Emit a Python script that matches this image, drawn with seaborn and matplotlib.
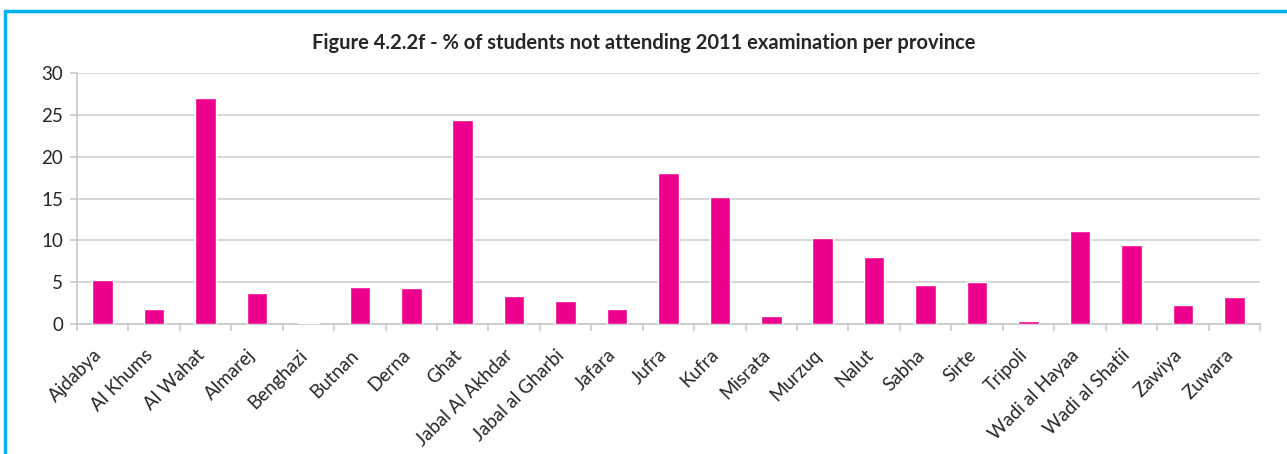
import numpy as np
import pandas as pd
import matplotlib
matplotlib.use('Agg')
import matplotlib.pyplot as plt
from matplotlib.lines import Line2D
from matplotlib.transforms import ScaledTranslation
import seaborn as sns

# % of students not attending 2011 examination, per province
provinces = ['Ajdabya', 'Al Khums', 'Al Wahat', 'Almarej', 'Benghazi', 'Butnan', 'Derna',
             'Ghat', 'Jabal Al Akhdar', 'Jabal al Gharbi', 'Jafara', 'Jufra', 'Kufra',
             'Misrata', 'Murzuq', 'Nalut', 'Sabha', 'Sirte', 'Tripoli', 'Wadi al Hayaa',
             'Wadi al Shatii', 'Zawiya', 'Zuwara']
pct_absent = [5.3, 1.8, 27.0, 3.7, 0.1, 4.4, 4.3,
              24.4, 3.4, 2.7, 1.8, 18.0, 15.2,
              1.0, 10.3, 8.0, 4.7, 5.0, 0.4, 11.1,
              9.4, 2.3, 3.2]
y_ticks = [0, 5, 10, 15, 20, 25, 30]

df = pd.DataFrame({'Province': provinces, 'Pct': pct_absent})

sns.set_style('white')
plt.rcParams['font.family'] = ['Lato', 'DejaVu Sans']

fig = plt.figure(figsize=(12.87, 4.54), dpi=100)
ax = fig.add_axes([0.0598, 0.2863, 0.9192, 0.5527])

sns.barplot(data=df, x='Province', y='Pct', color='#ec008c', saturation=1,
            width=0.4, ax=ax, zorder=3)

ax.set_ylim(0, 30)
ax.set_yticks(y_ticks)
ax.set_xlim(-0.5, len(provinces) - 0.5)
ax.yaxis.grid(True, color='#cfcfcf', linewidth=1.2, zorder=0)
ax.set_axisbelow(True)

for s in ['top', 'right']:
    ax.spines[s].set_visible(False)
for s in ['left', 'bottom']:
    ax.spines[s].set_color('#c8c8c8')
    ax.spines[s].set_linewidth(1.2)

ax.set_xlabel('')
ax.set_ylabel('')
ax.tick_params(axis='y', length=5, color='#c8c8c8', width=1.2, labelsize=13.5,
               pad=5, left=True)
ax.set_xticks(np.arange(len(provinces)))
ax.set_xticklabels(provinces, rotation=45, ha='right', rotation_mode='anchor')
ax.tick_params(axis='x', which='major', length=0, labelsize=13.5, pad=16)
ax.set_xticks(np.arange(-0.5, len(provinces), 1), minor=True)
ax.tick_params(axis='x', which='minor', length=5, color='#c8c8c8', width=1.2,
               bottom=True)
shift = ScaledTranslation(-10 / 100, 0, fig.dpi_scale_trans)
for lab in ax.get_xticklabels():
    lab.set_transform(lab.get_transform() + shift)

fig.text(0.5, 0.905, 'Figure 4.2.2f - % of students not attending 2011 examination per province',
         ha='center', va='center', fontsize=14.5, fontweight='bold')

# blue frame around the chart
fig.add_artist(Line2D([5 / 1287, 1.0], [1 - 11 / 454, 1 - 11 / 454],
                      color='#00b0f0', linewidth=2.5, transform=fig.transFigure))
fig.add_artist(Line2D([5 / 1287, 5 / 1287], [0, 1 - 11 / 454],
                      color='#00b0f0', linewidth=2.5, transform=fig.transFigure))

fig.savefig('out.png', dpi=100)
